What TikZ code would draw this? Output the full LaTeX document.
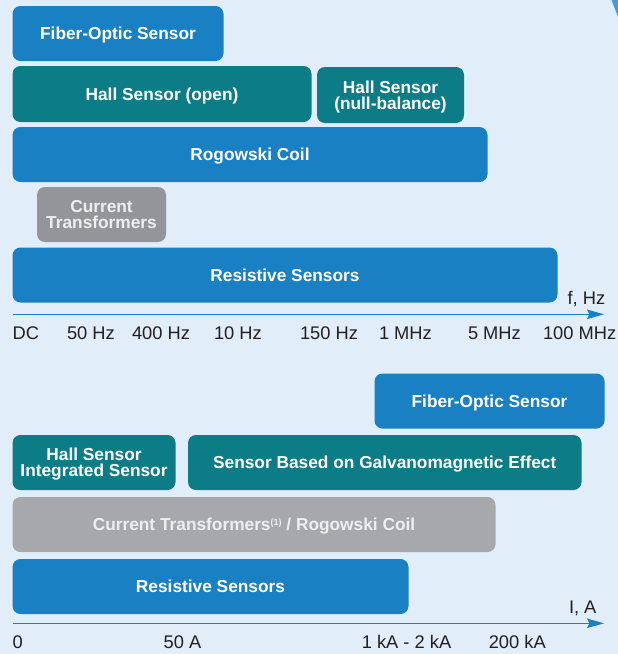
\documentclass[tikz,border=0pt]{standalone}
\usepackage{fontspec}
\setmainfont{Liberation Sans}
\usetikzlibrary{arrows.meta}
\definecolor{bgc}{HTML}{E1EDF8}
\definecolor{bluec}{HTML}{1A80C4}
\definecolor{tealc}{HTML}{0C7D86}
\definecolor{greyA}{HTML}{939598}
\definecolor{greyB}{HTML}{A6A8AB}
\definecolor{txtc}{HTML}{231F20}
\definecolor{slivc}{HTML}{4A98D4}
\definecolor{ltxt}{HTML}{EEEEEE}
\tikzset{
  boxbase/.style={anchor=north west, rounded corners=8pt, inner sep=0pt, outer sep=0pt,
    text=white, align=center, text depth=0pt, font=\fontsize{17.3}{16}\selectfont\bfseries},
  bluebox/.style={boxbase, fill=bluec},
  tealbox/.style={boxbase, fill=tealc},
  greyboxA/.style={boxbase, fill=greyA, text=ltxt},
  greyboxB/.style={boxbase, fill=greyB, text=ltxt},
  axlabel/.style={anchor=base west, inner sep=0pt, outer sep=0pt, text=txtc,
    font=\fontsize{18.3}{18.3}\selectfont},
  axisline/.style={draw=bluec, line width=1.5pt, -{Stealth[length=17pt,width=9.5pt,inset=2.5pt]}}
}
\begin{document}
\begin{tikzpicture}[x=1pt,y=-1pt]
\useasboundingbox (0,0) rectangle (618,654);
\fill[bgc] (0,0) rectangle (618,654);
\fill[slivc] (611.5,0) -- (618.5,0) -- (618.5,18) .. controls (615,9) .. (611.5,0) -- cycle;

% ---- frequency chart ----
\node[bluebox, minimum width=211pt, minimum height=55pt] (fo1) at (12.5,6) {Fiber-Optic Sensor};
\node[tealbox, minimum width=299pt, minimum height=56pt] (hallopen) at (12.5,66) {Hall Sensor (open)};
\node[tealbox, minimum width=147pt, minimum height=56pt] (hallnull) at (317,67) {Hall Sensor\\(null-balance)};
\node[bluebox, minimum width=475pt, minimum height=55pt] (rog) at (12.5,127) {Rogowski Coil};
\node[greyboxA, minimum width=129pt, minimum height=55pt] (ct) at (37,187) {Current\\Transformers};
\node[bluebox, minimum width=545pt, minimum height=55pt] (res1) at (12.5,247.5) {Resistive Sensors};

\coordinate (a1s) at (12.5,314.3);
\coordinate (a1e) at (604,314.3);
\draw[axisline] (a1s) -- (a1e);
\node[axlabel] (fhz) at (567.6,304.5) {f, Hz};
\node[axlabel] (l1) at (12.6,339) {DC};
\node[axlabel] (l2) at (67,339) {50 Hz};
\node[axlabel] (l3) at (132,339) {400 Hz};
\node[axlabel] (l4) at (214,339) {10 Hz};
\node[axlabel] (l5) at (300,339) {150 Hz};
\node[axlabel] (l6) at (379,339) {1 MHz};
\node[axlabel] (l7) at (468,339) {5 MHz};
\node[axlabel] (l8) at (543,339) {100 MHz};

% ---- current chart ----
\node[bluebox, minimum width=230pt, minimum height=55pt] (fo2) at (374.5,373.5) {Fiber-Optic Sensor};
\node[tealbox, minimum width=163pt, minimum height=55pt] (hallint) at (12.5,435) {Hall Sensor\\Integrated Sensor};
\node[tealbox, minimum width=393.5pt, minimum height=55pt] (galv) at (188,435) {Sensor Based on Galvanomagnetic Effect};
\node[greyboxB, minimum width=483pt, minimum height=55pt] (ctrog) at (12.5,497) {Current Transformers{\fontsize{9}{9}\selectfont\raisebox{5pt}{(1)}} / Rogowski Coil};
\node[bluebox, minimum width=396pt, minimum height=55pt] (res2) at (12.5,559) {Resistive Sensors};

\coordinate (a2s) at (12.5,623.3);
\coordinate (a2e) at (604,623.3);
\draw[axisline] (a2s) -- (a2e);
\node[axlabel] (ia) at (569,613) {I, A};
\node[axlabel] (m1) at (12.6,648) {0};
\node[axlabel] (m2) at (163.6,648) {50 A};
\node[axlabel] (m3) at (361.8,648) {1 kA - 2 kA};
\node[axlabel] (m4) at (488.8,648) {200 kA};
\end{tikzpicture}
\end{document}
